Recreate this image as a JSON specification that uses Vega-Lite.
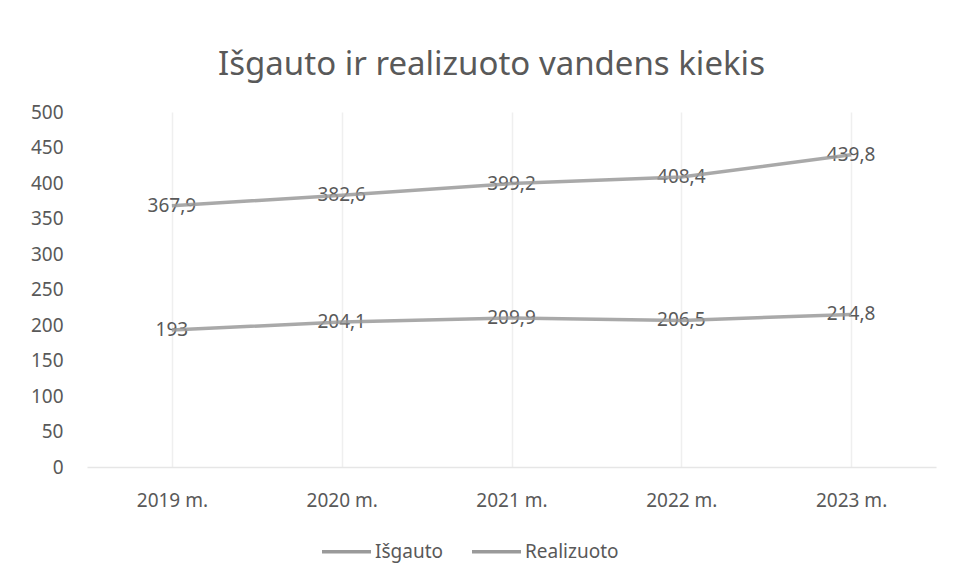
{
  "$schema": "https://vega.github.io/schema/vega-lite/v6.json",
  "autosize": {"type": "none"},
  "width": 849,
  "height": 355,
  "padding": {"left": 87, "top": 112, "right": 17, "bottom": 117},
  "background": "white",
  "config": {
    "locale": {"number": {"decimal": ",", "thousands": " ", "grouping": [3], "currency": ["", " €"]}},
    "view": {"stroke": null},
    "font": "Noto Sans"
  },
  "title": {
    "text": "Išgauto ir realizuoto vandens kiekis",
    "fontSize": 33,
    "fontWeight": "normal",
    "color": "#595959",
    "font": "Noto Sans",
    "anchor": "middle",
    "dx": -20,
    "offset": 21
  },
  "data": {
    "values": [
      {"metai": "2019 m.", "serija": "Išgauto", "kiekis": 367.9},
      {"metai": "2020 m.", "serija": "Išgauto", "kiekis": 382.6},
      {"metai": "2021 m.", "serija": "Išgauto", "kiekis": 399.2},
      {"metai": "2022 m.", "serija": "Išgauto", "kiekis": 408.4},
      {"metai": "2023 m.", "serija": "Išgauto", "kiekis": 439.8},
      {"metai": "2019 m.", "serija": "Realizuoto", "kiekis": 193},
      {"metai": "2020 m.", "serija": "Realizuoto", "kiekis": 204.1},
      {"metai": "2021 m.", "serija": "Realizuoto", "kiekis": 209.9},
      {"metai": "2022 m.", "serija": "Realizuoto", "kiekis": 206.5},
      {"metai": "2023 m.", "serija": "Realizuoto", "kiekis": 214.8}
    ]
  },
  "encoding": {
    "x": {
      "field": "metai",
      "type": "nominal",
      "sort": null,
      "scale": {"type": "point", "padding": 0.5},
      "axis": {
        "title": null,
        "labelAngle": 0,
        "labelFontSize": 19,
        "labelColor": "#595959",
        "labelPadding": 24,
        "ticks": false,
        "domainColor": "#e6e6e6",
        "domainWidth": 1.5,
        "grid": true,
        "gridColor": "#efefef",
        "gridWidth": 1.5
      }
    },
    "y": {
      "field": "kiekis",
      "type": "quantitative",
      "scale": {"domain": [0, 500], "nice": false},
      "axis": {
        "title": null,
        "values": [0, 50, 100, 150, 200, 250, 300, 350, 400, 450, 500],
        "labelFontSize": 19,
        "labelColor": "#595959",
        "labelPadding": 24,
        "ticks": false,
        "domain": false,
        "grid": false
      }
    }
  },
  "layer": [
    {
      "mark": {"type": "text", "fontSize": 19, "color": "#595959", "align": "center", "baseline": "middle"},
      "encoding": {
        "text": {"field": "kiekis", "type": "quantitative", "format": ".4~r"},
        "detail": {"field": "serija"}
      }
    },
    {
      "mark": {"type": "line", "strokeWidth": 3.5, "opacity": 0.85},
      "encoding": {
        "color": {
          "field": "serija",
          "type": "nominal",
          "scale": {"domain": ["Išgauto", "Realizuoto"], "range": ["#9a9a9a", "#9a9a9a"]},
          "legend": {
            "title": null,
            "orient": "none",
            "legendX": 233,
            "legendY": 413,
            "direction": "horizontal",
            "symbolType": "stroke",
            "symbolStrokeWidth": 3.5,
            "symbolOpacity": 1,
            "symbolSize": 2400,
            "labelFontSize": 19,
            "labelColor": "#595959",
            "labelOffset": 2,
            "columnPadding": 22
          }
        }
      }
    }
  ]
}
